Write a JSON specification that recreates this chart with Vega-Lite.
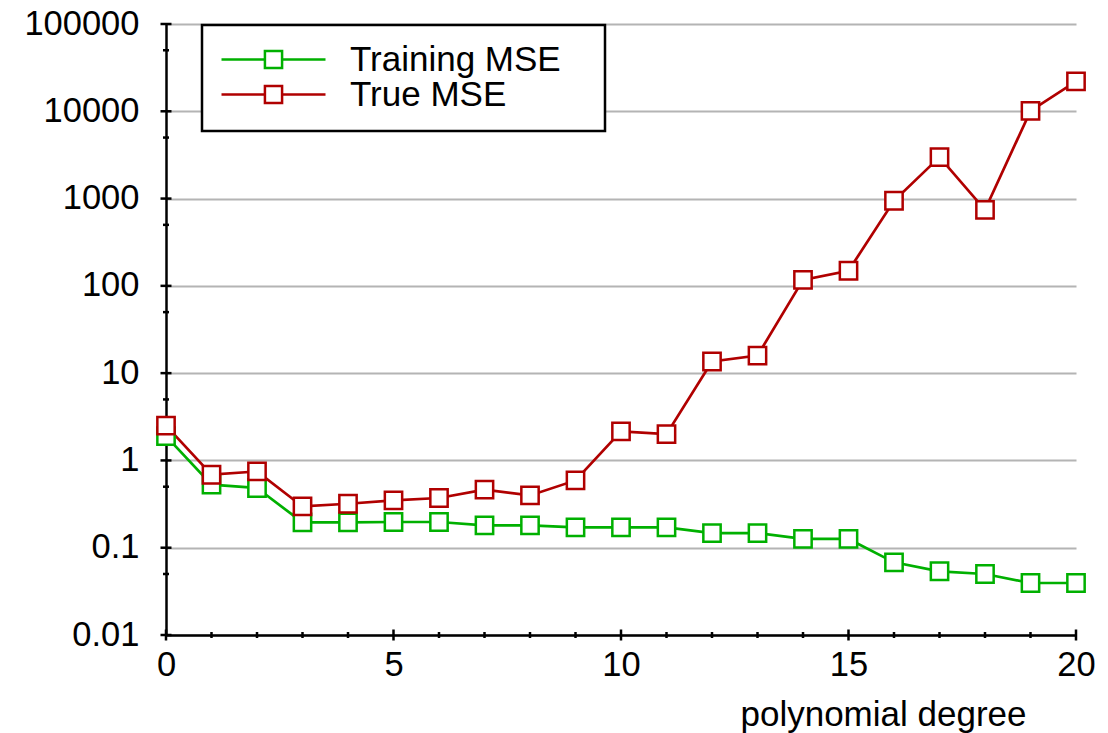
{
  "$schema": "https://vega.github.io/schema/vega-lite/v6.json",
  "width": 910,
  "height": 611,
  "autosize": {"type": "none"},
  "padding": {"left": 166, "top": 24, "right": 32, "bottom": 98},
  "background": "white",
  "config": {"view": {"stroke": null}, "font": "Liberation Sans"},
  "datasets": {
    "mse": [
      {"degree": 0, "series": "Training MSE", "mse": 1.9},
      {"degree": 1, "series": "Training MSE", "mse": 0.527},
      {"degree": 2, "series": "Training MSE", "mse": 0.483},
      {"degree": 3, "series": "Training MSE", "mse": 0.195},
      {"degree": 4, "series": "Training MSE", "mse": 0.195},
      {"degree": 5, "series": "Training MSE", "mse": 0.197},
      {"degree": 6, "series": "Training MSE", "mse": 0.197},
      {"degree": 7, "series": "Training MSE", "mse": 0.18},
      {"degree": 8, "series": "Training MSE", "mse": 0.18},
      {"degree": 9, "series": "Training MSE", "mse": 0.171},
      {"degree": 10, "series": "Training MSE", "mse": 0.171},
      {"degree": 11, "series": "Training MSE", "mse": 0.171},
      {"degree": 12, "series": "Training MSE", "mse": 0.147},
      {"degree": 13, "series": "Training MSE", "mse": 0.147},
      {"degree": 14, "series": "Training MSE", "mse": 0.126},
      {"degree": 15, "series": "Training MSE", "mse": 0.126},
      {"degree": 16, "series": "Training MSE", "mse": 0.068},
      {"degree": 17, "series": "Training MSE", "mse": 0.0537},
      {"degree": 18, "series": "Training MSE", "mse": 0.05},
      {"degree": 19, "series": "Training MSE", "mse": 0.0394},
      {"degree": 20, "series": "Training MSE", "mse": 0.0394},
      {"degree": 0, "series": "True MSE", "mse": 2.5},
      {"degree": 1, "series": "True MSE", "mse": 0.686},
      {"degree": 2, "series": "True MSE", "mse": 0.748},
      {"degree": 3, "series": "True MSE", "mse": 0.297},
      {"degree": 4, "series": "True MSE", "mse": 0.319},
      {"degree": 5, "series": "True MSE", "mse": 0.348},
      {"degree": 6, "series": "True MSE", "mse": 0.371},
      {"degree": 7, "series": "True MSE", "mse": 0.462},
      {"degree": 8, "series": "True MSE", "mse": 0.397},
      {"degree": 9, "series": "True MSE", "mse": 0.59},
      {"degree": 10, "series": "True MSE", "mse": 2.15},
      {"degree": 11, "series": "True MSE", "mse": 2.0},
      {"degree": 12, "series": "True MSE", "mse": 13.6},
      {"degree": 13, "series": "True MSE", "mse": 15.9},
      {"degree": 14, "series": "True MSE", "mse": 117},
      {"degree": 15, "series": "True MSE", "mse": 149},
      {"degree": 16, "series": "True MSE", "mse": 944},
      {"degree": 17, "series": "True MSE", "mse": 2985},
      {"degree": 18, "series": "True MSE", "mse": 742},
      {"degree": 19, "series": "True MSE", "mse": 10100},
      {"degree": 20, "series": "True MSE", "mse": 22000}
    ],
    "yTicks": [
      {"v": 0.01, "major": true}, {"v": 0.1, "major": true}, {"v": 1, "major": true},
      {"v": 10, "major": true}, {"v": 100, "major": true}, {"v": 1000, "major": true},
      {"v": 10000, "major": true}, {"v": 100000, "major": true},
      {"v": 0.05, "major": false}, {"v": 0.5, "major": false}, {"v": 5, "major": false},
      {"v": 50, "major": false}, {"v": 500, "major": false}, {"v": 5000, "major": false},
      {"v": 50000, "major": false}
    ],
    "xTicks": [
      {"v": 0, "major": true}, {"v": 5, "major": true}, {"v": 10, "major": true},
      {"v": 15, "major": true}, {"v": 20, "major": true},
      {"v": 1, "major": false}, {"v": 2, "major": false}, {"v": 3, "major": false},
      {"v": 4, "major": false}, {"v": 6, "major": false}, {"v": 7, "major": false},
      {"v": 8, "major": false}, {"v": 9, "major": false}, {"v": 11, "major": false},
      {"v": 12, "major": false}, {"v": 13, "major": false}, {"v": 14, "major": false},
      {"v": 16, "major": false}, {"v": 17, "major": false}, {"v": 18, "major": false},
      {"v": 19, "major": false}
    ]
  },
  "layer": [
    {
      "data": {"name": "mse"},
      "mark": {"type": "line", "strokeWidth": 2.7, "clip": false},
      "encoding": {
        "x": {
          "field": "degree", "type": "quantitative", "title": "polynomial degree",
          "scale": {"domain": [0, 20], "nice": false, "zero": false},
          "axis": {
            "values": [0, 5, 10, 15, 20], "ticks": false, "grid": false,
            "domainColor": "black", "domainWidth": 2.5,
            "labelFontSize": 34.5, "labelColor": "black", "labelPadding": 13, "labelFlush": false,
            "titleFontSize": 35, "titleFontWeight": "normal",
            "titleColor": "black", "titleAnchor": "end", "titleAlign": "right",
            "titleX": 860, "titleY": 90, "titleBaseline": "alphabetic"
          }
        },
        "y": {
          "field": "mse", "type": "quantitative", "title": null,
          "scale": {"type": "log", "domain": [0.01, 100000], "nice": false},
          "axis": {
            "values": [0.01, 0.1, 1, 10, 100, 1000, 10000, 100000], "format": "~g",
            "ticks": false, "grid": true, "gridColor": "#b4b4b4", "gridWidth": 2,
            "domainColor": "black", "domainWidth": 2.5,
            "labelFontSize": 34.5, "labelColor": "black", "labelPadding": 27, "labelFlush": false
          }
        },
        "color": {
          "field": "series", "type": "nominal",
          "scale": {"domain": ["Training MSE", "True MSE"], "range": ["#00b000", "#b00000"]},
          "legend": {
            "orient": "none", "legendX": 36, "legendY": 1, "title": null,
            "symbolType": "M-1,0H-0.165M0.165,0H1M-0.165,-0.165H0.165V0.165H-0.165Z",
            "symbolSize": 10816, "symbolStrokeWidth": 2.5,
            "clipHeight": 33, "rowPadding": -2, "padding": 18, "labelOffset": 23,
            "labelFontSize": 35, "labelColor": "black", "labelFont": "Liberation Sans",
            "labelLimit": 500,
            "strokeColor": "black", "fillColor": "white",
            "labelExpr": "datum.label + '\u2800'",
            "encode": {
              "symbols": {"update": {"fill": {"value": "white"}}},
              "legend": {"update": {"strokeWidth": {"value": 2.5}}}
            }
          }
        }
      }
    },
    {
      "data": {"name": "mse"},
      "mark": {"type": "point", "shape": "square", "filled": false, "fill": "white", "fillOpacity": 1, "opacity": 1, "size": 300, "strokeWidth": 2.5, "clip": false},
      "encoding": {
        "x": {"field": "degree", "type": "quantitative", "title": "polynomial degree"},
        "y": {"field": "mse", "type": "quantitative", "title": null},
        "color": {"field": "series", "type": "nominal"}
      }
    },
    {
      "data": {"name": "yTicks"},
      "transform": [{"filter": "datum.major"}],
      "mark": {"type": "tick", "orient": "horizontal", "size": 11, "thickness": 2.5, "color": "black", "opacity": 1},
      "encoding": {
        "x": {"datum": 0, "type": "quantitative", "title": "polynomial degree"},
        "y": {"field": "v", "type": "quantitative", "title": null}
      }
    },
    {
      "data": {"name": "yTicks"},
      "transform": [{"filter": "!datum.major"}],
      "mark": {"type": "tick", "orient": "horizontal", "size": 6, "thickness": 2.5, "color": "black", "opacity": 1},
      "encoding": {
        "x": {"datum": 0, "type": "quantitative", "title": "polynomial degree"},
        "y": {"field": "v", "type": "quantitative", "title": null}
      }
    },
    {
      "data": {"name": "xTicks"},
      "transform": [{"filter": "datum.major"}],
      "mark": {"type": "tick", "orient": "vertical", "size": 11, "thickness": 2.5, "color": "black", "opacity": 1},
      "encoding": {
        "x": {"field": "v", "type": "quantitative", "title": "polynomial degree"},
        "y": {"datum": 0.01, "type": "quantitative", "title": null}
      }
    },
    {
      "data": {"name": "xTicks"},
      "transform": [{"filter": "!datum.major"}],
      "mark": {"type": "tick", "orient": "vertical", "size": 6, "thickness": 2.5, "color": "black", "opacity": 1},
      "encoding": {
        "x": {"field": "v", "type": "quantitative", "title": "polynomial degree"},
        "y": {"datum": 0.01, "type": "quantitative", "title": null}
      }
    }
  ]
}
